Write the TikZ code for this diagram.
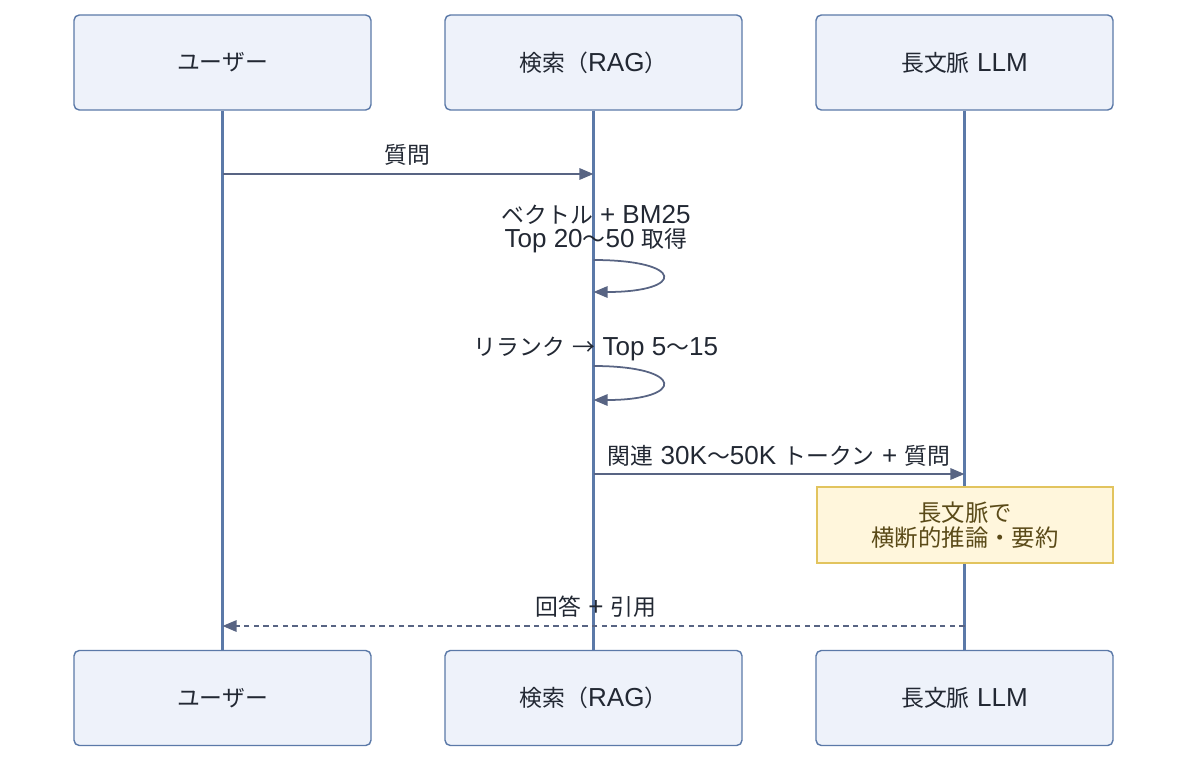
\documentclass[tikz,border=0pt]{standalone}
\usepackage{fontspec}
\setmainfont{Noto Sans CJK JP}
\newfontfamily\latfont[Scale=1.14]{Liberation Sans}
\newcommand{\lt}[1]{{\latfont #1}}
\usetikzlibrary{arrows.meta}
\definecolor{actfill}{HTML}{EEF2FA}
\definecolor{actline}{HTML}{5B79A8}
\definecolor{msgline}{HTML}{586483}
\definecolor{notefill}{HTML}{FFF6DC}
\definecolor{noteline}{HTML}{E2C45E}
\definecolor{notetext}{HTML}{5A4A18}
\definecolor{txt}{HTML}{222833}
\tikzset{
    actor/.style={rectangle, rounded corners=3pt, draw=actline, fill=actfill, line width=0.8pt,
        minimum width=297*0.02cm, minimum height=95*0.02cm, text=txt, font=\fontsize{13}{15}\selectfont},
    lifeline/.style={draw=actline, line width=1.4pt},
    msg/.style={draw=msgline, line width=1pt, -{Triangle[length=8pt,width=6.5pt]}},
    reply/.style={msg, dash pattern=on 3pt off 2.5pt},
    lbl/.style={text=txt, font=\fontsize{13}{14.2}\selectfont, align=center, inner sep=1pt},
    note/.style={rectangle, draw=noteline, fill=notefill, line width=0.8pt, text=notetext,
        minimum width=296*0.02cm, minimum height=76*0.02cm, align=center,
        font=\fontsize{13.3}{14.2}\selectfont}
}
\begin{document}
\begin{tikzpicture}[x=0.02cm, y=-0.02cm]
    \useasboundingbox (0,0) rectangle (1200,771);

    % actors, top row
    \node[actor] (usr) at (222.5, 62.5) {ユーザー};
    \node[actor] (rag) at (593.5, 62.5) {検索（\lt{RAG}）};
    \node[actor] (llm) at (964.5, 62.5) {長文脈\lt{ LLM}};

    % actors, bottom row
    \node[actor] (usrb) at (222.5, 698) {ユーザー};
    \node[actor] (ragb) at (593.5, 698) {検索（\lt{RAG}）};
    \node[actor] (llmb) at (964.5, 698) {長文脈\lt{ LLM}};

    % lifelines
    \draw[lifeline] (usr.south) -- (usrb.north);
    \draw[lifeline] (rag.south) -- (ragb.north);
    \draw[lifeline] (llm.south) -- (llmb.north);

    % question
    \coordinate (q1) at (222.5, 174);
    \coordinate (q2) at (593.5, 174);
    \draw[msg] (q1) -- (q2);
    \node[lbl] (qlbl) at (407, 155) {質問};

    % retrieval loop
    \node[lbl] (ret) at (596, 229) {ベクトル\lt{ + BM25}\\\lt{Top 20}〜\lt{50 }取得};
    \coordinate (r1) at (593.5, 260);
    \coordinate (r2) at (593.5, 292);
    \draw[msg] (r1) .. controls +(92,0) and +(92,0) .. (r2);

    % rerank loop
    \node[lbl] (rrk) at (596, 349) {リランク\lt{ }→\lt{ Top 5}〜\lt{15}};
    \coordinate (k1) at (593.5, 366);
    \coordinate (k2) at (593.5, 400);
    \draw[msg] (k1) .. controls +(92,0) and +(92,0) .. (k2);

    % context to llm
    \coordinate (c1) at (593.5, 474);
    \coordinate (c2) at (964.5, 474);
    \draw[msg] (c1) -- (c2);
    \node[lbl] (clbl) at (779, 456) {関連\lt{ 30K}〜\lt{50K }トークン\lt{ + }質問};

    % note
    \node[note] (nt) at (965, 525) {長文脈で\\横断的推論・要約};

    % answer
    \coordinate (a1) at (964.5, 626);
    \coordinate (a2) at (222.5, 626);
    \draw[reply] (a1) -- (a2);
    \node[lbl] (albl) at (596, 607) {回答\lt{ + }引用};
\end{tikzpicture}
\end{document}
